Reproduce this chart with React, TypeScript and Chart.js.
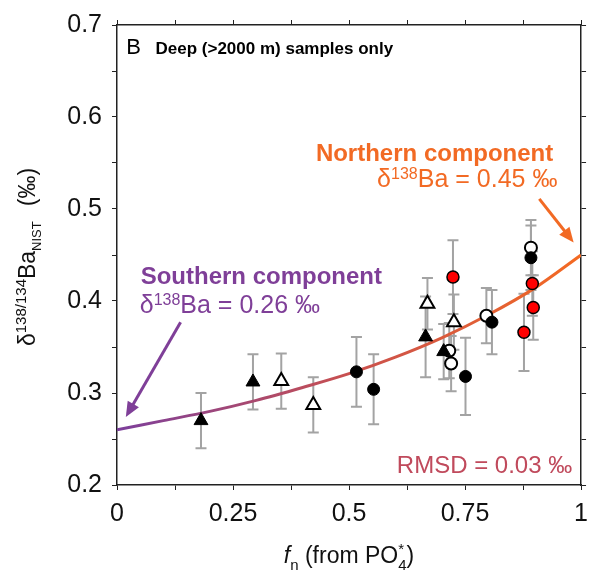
import React, { useEffect, useRef } from 'react';
import { Chart, registerables } from 'chart.js';

Chart.register(...registerables);

const FONT = '"Liberation Sans", Arial, Helvetica, sans-serif';

// ---- Data ----
const filledTriX = [0.181, 0.293, 0.665, 0.704];
const filledTriY = [0.270, 0.312, 0.361, 0.345];
const filledTriErr = [0.030, 0.030, 0.044, 0.030];

const openTriX = [0.354, 0.423, 0.669, 0.726];
const openTriY = [0.313, 0.287, 0.397, 0.377];
const openTriErr = [0.030, 0.030, 0.028, 0.030];

const filledCircX = [0.516, 0.553, 0.751, 0.808, 0.892];
const filledCircY = [0.323, 0.304, 0.318, 0.377, 0.447];
const filledCircErr = [0.038, 0.038, 0.042, 0.035, 0.035];

const openCircX = [0.716, 0.720, 0.796, 0.892];
const openCircY = [0.346, 0.332, 0.384, 0.458];
const openCircErr = [0.030, 0.030, 0.030, 0.030];

const redCircX = [0.724, 0.877, 0.895, 0.897];
const redCircY = [0.426, 0.366, 0.419, 0.393];
const redCircErr = [0.040, 0.042, 0.035, 0.035];

// mixing curve
const curveX = [0, 0.1, 0.2, 0.3, 0.4, 0.5, 0.6, 0.7, 0.8, 0.9, 1.0];
const curveY = [0.260, 0.270, 0.280, 0.292, 0.306, 0.321, 0.339, 0.360, 0.385, 0.414, 0.450];

const xTickValues = [0, 0.25, 0.5, 0.75, 1];
const xTickLabels = ['0', '0.25', '0.5', '0.75', '1'];
const yTickValues = [0.2, 0.3, 0.4, 0.5, 0.6, 0.7];
const yTickLabels = ['0.2', '0.3', '0.4', '0.5', '0.6', '0.7'];

const PURPLE = '#7f3f98';
const ORANGE = '#f26a24';
const RMSD_COL = '#c04a5c';

const toPts = (xs: number[], ys: number[]) => xs.map((x, i) => ({ x, y: ys[i] }));

const labelFor = (value: number, values: number[], labels: string[]) => {
  const i = values.findIndex((v) => Math.abs(v - value) < 1e-6);
  return i >= 0 ? labels[i] : '';
};

type Seg = { t: string; s: number; dy?: number; it?: boolean; b?: boolean; noAdv?: boolean; w?: number };

const segFont = (g: Seg) => `${g.it ? 'italic ' : ''}${g.b ? 'bold ' : ''}${g.s}px ${FONT}`;

function drawSegs(ctx: CanvasRenderingContext2D, segs: Seg[], x: number, y: number, align: 'left' | 'right' | 'center', color: string) {
  let total = 0;
  const widths = segs.map((g) => {
    ctx.font = segFont(g);
    const w = g.w !== undefined ? g.w : ctx.measureText(g.t).width;
    if (!g.noAdv) total += w;
    return w;
  });
  let cx = align === 'left' ? x : align === 'right' ? x - total : x - total / 2;
  ctx.fillStyle = color;
  ctx.textBaseline = 'alphabetic';
  ctx.textAlign = 'left';
  segs.forEach((g, i) => {
    ctx.font = segFont(g);
    if (g.t) ctx.fillText(g.t, cx, y + (g.dy || 0));
    if (!g.noAdv) cx += widths[i];
  });
}

function drawArrow(ctx: CanvasRenderingContext2D, x1: number, y1: number, x2: number, y2: number, color: string) {
  const ang = Math.atan2(y2 - y1, x2 - x1);
  const hl = 15;
  const hw = 6.5;
  const bx = x2 - Math.cos(ang) * hl;
  const by = y2 - Math.sin(ang) * hl;
  ctx.save();
  ctx.strokeStyle = color;
  ctx.fillStyle = color;
  ctx.lineWidth = 3;
  ctx.beginPath();
  ctx.moveTo(x1, y1);
  ctx.lineTo(bx + Math.cos(ang) * 2, by + Math.sin(ang) * 2);
  ctx.stroke();
  ctx.beginPath();
  ctx.moveTo(x2, y2);
  ctx.lineTo(bx - Math.sin(ang) * hw, by + Math.cos(ang) * hw);
  ctx.lineTo(bx + Math.sin(ang) * hw, by - Math.cos(ang) * hw);
  ctx.closePath();
  ctx.fill();
  ctx.restore();
}

const errGroups = [
  { xs: filledTriX, ys: filledTriY, es: filledTriErr },
  { xs: openTriX, ys: openTriY, es: openTriErr },
  { xs: filledCircX, ys: filledCircY, es: filledCircErr },
  { xs: openCircX, ys: openCircY, es: openCircErr },
  { xs: redCircX, ys: redCircY, es: redCircErr },
];

const annotPlugin = {
  id: 'annot',
  beforeDatasetsDraw(chart: any) {
    const { ctx, scales } = chart;
    const xs = scales.x;
    const ys = scales.y;
    ctx.save();
    ctx.strokeStyle = '#a3a3a3';
    ctx.lineWidth = 2;
    errGroups.forEach((g) => {
      g.xs.forEach((xv, i) => {
        const px = xs.getPixelForValue(xv);
        const p1 = ys.getPixelForValue(g.ys[i] + g.es[i]);
        const p2 = ys.getPixelForValue(g.ys[i] - g.es[i]);
        ctx.beginPath();
        ctx.moveTo(px, p1);
        ctx.lineTo(px, p2);
        ctx.moveTo(px - 5.5, p1);
        ctx.lineTo(px + 5.5, p1);
        ctx.moveTo(px - 5.5, p2);
        ctx.lineTo(px + 5.5, p2);
        ctx.stroke();
      });
    });
    ctx.restore();
  },
  afterDraw(chart: any) {
    const { ctx, scales, chartArea } = chart;
    const X = (v: number) => scales.x.getPixelForValue(v);
    const Y = (v: number) => scales.y.getPixelForValue(v);
    ctx.save();

    // panel label
    drawSegs(ctx, [{ t: 'B', s: 22 }], X(0.020), Y(0.669), 'left', '#000');
    drawSegs(ctx, [{ t: 'Deep (>2000 m) samples only', s: 17, b: true }], X(0.083), Y(0.669), 'left', '#000');

    // Northern component
    drawSegs(ctx, [{ t: 'Northern component', s: 24, b: true }], X(0.940), Y(0.5526), 'right', ORANGE);
    drawSegs(ctx, [
      { t: 'δ', s: 25 },
      { t: '138', s: 16, dy: -8 },
      { t: 'Ba = 0.45 ‰', s: 25 },
    ], X(0.949), Y(0.5237), 'right', ORANGE);
    drawArrow(ctx, X(0.910), Y(0.511), X(0.984), Y(0.4636), ORANGE);

    // Southern component
    drawSegs(ctx, [{ t: 'Southern component', s: 24, b: true }], X(0.051), Y(0.419), 'left', PURPLE);
    drawSegs(ctx, [
      { t: 'δ', s: 25 },
      { t: '138', s: 16, dy: -8 },
      { t: 'Ba = 0.26 ‰', s: 25 },
    ], X(0.049), Y(0.387), 'left', PURPLE);
    drawArrow(ctx, X(0.137), Y(0.377), X(0.019), Y(0.274), PURPLE);

    // RMSD
    drawSegs(ctx, [{ t: 'RMSD = 0.03 ‰', s: 24 }], X(0.981), Y(0.2128), 'right', RMSD_COL);

    // x-axis title
    const midX = (chartArea.left + chartArea.right) / 2;
    drawSegs(ctx, [
      { t: 'f', s: 23, it: true },
      { t: 'n', s: 15, dy: 7 },
      { t: ' (from PO', s: 23 },
      { t: '*', s: 15, dy: -9, noAdv: true },
      { t: '4', s: 15, dy: 7 },
      { t: ')', s: 23 },
    ], midX, chartArea.bottom + 78, 'center', '#111');

    // y-axis title (rotated)
    ctx.save();
    ctx.translate(35, (chartArea.top + chartArea.bottom) / 2 + 2);
    ctx.rotate(-Math.PI / 2);
    drawSegs(ctx, [
      { t: 'δ', s: 23 },
      { t: '138/134', s: 15, dy: -9 },
      { t: 'Ba', s: 23 },
      { t: 'NIST', s: 13, dy: 6 },
      { t: '', s: 23, w: 15 },
      { t: '(‰)', s: 23 },
    ], 0, 0, 'center', '#111');
    ctx.restore();

    ctx.restore();
  },
};

export default function App() {
  const ref = useRef<HTMLCanvasElement | null>(null);

  useEffect(() => {
    if (!ref.current) return;
    const gridCommon = { drawOnChartArea: false, drawTicks: true, tickLength: 5, color: '#222', lineWidth: 1 };
    const borderCommon = { color: '#222', width: 1.5 };
    const chart = new Chart(ref.current, {
      type: 'scatter',
      data: {
        datasets: [
          {
            label: 'mixing',
            data: toPts(curveX, curveY),
            showLine: true,
            pointRadius: 0,
            borderWidth: 3,
            cubicInterpolationMode: 'monotone',
            order: 10,
            borderColor: (c: any) => {
              const { chart: ch } = c;
              const area = ch.chartArea;
              if (!area) return '#c0504d';
              const g = ch.ctx.createLinearGradient(area.left, 0, area.right, 0);
              g.addColorStop(0, '#7c3f9c');
              g.addColorStop(0.5, '#c9504f');
              g.addColorStop(1, '#f46a22');
              return g;
            },
          } as any,
          {
            label: 'open circ',
            data: toPts(openCircX, openCircY),
            pointStyle: 'circle',
            pointRadius: 6,
            backgroundColor: '#fff',
            borderColor: '#000',
            borderWidth: 2,
            order: 5,
          },
          {
            label: 'red circ',
            data: toPts(redCircX, redCircY),
            pointStyle: 'circle',
            pointRadius: 6,
            backgroundColor: '#ff0000',
            borderColor: '#000',
            borderWidth: 1.5,
            order: 4,
          },
          {
            label: 'open tri',
            data: toPts(openTriX, openTriY),
            pointStyle: 'triangle',
            pointRadius: 8,
            backgroundColor: '#fff',
            borderColor: '#000',
            borderWidth: 2,
            order: 3,
          },
          {
            label: 'filled circ',
            data: toPts(filledCircX, filledCircY),
            pointStyle: 'circle',
            pointRadius: 6,
            backgroundColor: '#000',
            borderColor: '#000',
            borderWidth: 1,
            order: 2,
          },
          {
            label: 'filled tri',
            data: toPts(filledTriX, filledTriY),
            pointStyle: 'triangle',
            pointRadius: 8,
            backgroundColor: '#000',
            borderColor: '#000',
            borderWidth: 1,
            order: 1,
          },
        ],
      },
      options: {
        responsive: false,
        animation: false,
        devicePixelRatio: 1,
        layout: { padding: 0 },
        plugins: { legend: { display: false }, tooltip: { enabled: false } },
        events: [],
        scales: {
          x: {
            type: 'linear',
            position: 'bottom',
            min: 0,
            max: 1,
            ticks: {
              stepSize: 0.125,
              autoSkip: false,
              maxRotation: 0,
              padding: 9,
              color: '#111',
              font: { size: 25, family: FONT },
              callback: (v: any) => labelFor(Number(v), xTickValues, xTickLabels),
            },
            grid: gridCommon,
            border: borderCommon,
            afterFit: (s: any) => { s.height = 98; },
          },
          x2: {
            type: 'linear',
            position: 'top',
            min: 0,
            max: 1,
            ticks: { stepSize: 0.125, display: false },
            grid: gridCommon,
            border: borderCommon,
            afterFit: (s: any) => { s.height = 17; },
          },
          y: {
            type: 'linear',
            position: 'left',
            min: 0.2,
            max: 0.7,
            ticks: {
              stepSize: 0.05,
              autoSkip: false,
              padding: 10,
              color: '#111',
              font: { size: 25, family: FONT },
              callback: (v: any) => labelFor(Number(v), yTickValues, yTickLabels),
            },
            grid: gridCommon,
            border: borderCommon,
            afterFit: (s: any) => { s.width = 117; },
          },
          y2: {
            type: 'linear',
            position: 'right',
            min: 0.2,
            max: 0.7,
            ticks: { stepSize: 0.05, display: false },
            grid: gridCommon,
            border: borderCommon,
            afterFit: (s: any) => { s.width = 12; },
          },
        },
      } as any,
      plugins: [annotPlugin],
    });
    return () => chart.destroy();
  }, []);

  return (
    <div style={{ position: 'absolute', left: 0, top: 0, width: 597, height: 583, background: '#fff' }}>
      <canvas ref={ref} width={597} height={583} style={{ display: 'block', width: 597, height: 583 }} />
    </div>
  );
}
